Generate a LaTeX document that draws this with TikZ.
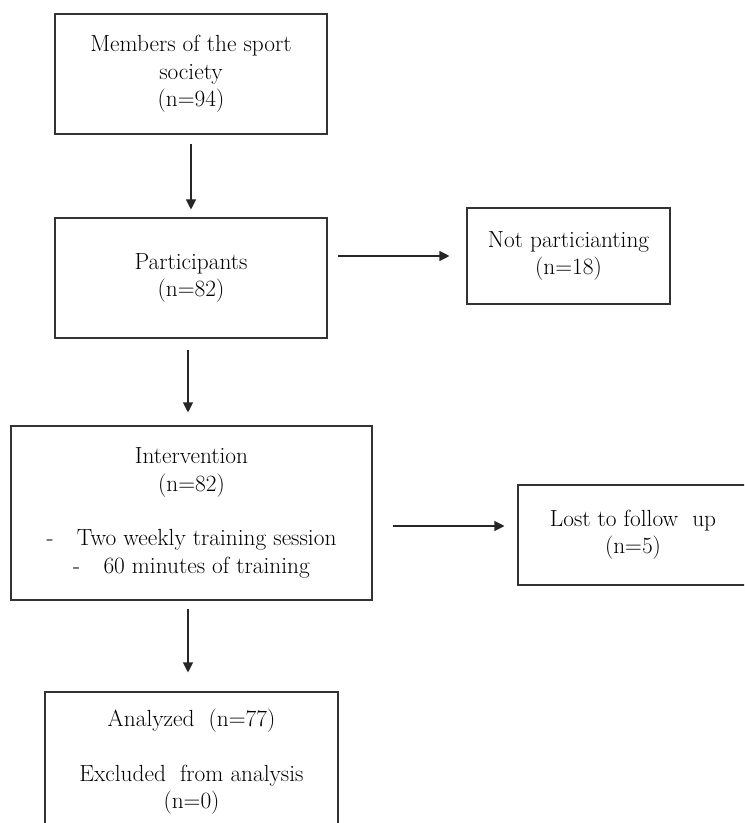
\documentclass[tikz,border=0pt]{standalone}
\usetikzlibrary{arrows.meta,calc}
\begin{document}
\begin{tikzpicture}[x=0.75pt,y=-0.75pt,
  box/.style={draw=black!80,line width=0.8pt,rectangle,inner sep=0pt,align=center,
    font=\fontsize{17.5}{20.5}\selectfont},
  arr/.style={draw=black!85,line width=0.8pt,-{Triangle[length=7.5pt,width=7.5pt]}}]
\useasboundingbox (0,0) rectangle (744,823);
\clip (0,0) rectangle (744,823);
\node[box,minimum width=204pt,minimum height=90pt] (b1) at (191,74)
  {Members of the sport\\society\\(n=94)};
\node[box,minimum width=204pt,minimum height=90pt] (b2) at (191,278)
  {Participants\\(n=82)};
\node[box,minimum width=152.25pt,minimum height=72pt] (b3) at (568.5,256)
  {Not particianting\\(n=18)};
\node[box,minimum width=270.75pt,minimum height=130.5pt] (b4) at (191.5,513)
  {Intervention\\(n=82)\\[20.5pt]-\quad Two weekly training session\\-\quad 60 minutes of training};
\node[box,minimum width=172.5pt,minimum height=75pt] (b5) at (633,535)
  {Lost to follow\ \ up\\(n=5)};
\node[box,minimum width=219.75pt,minimum height=105pt] (b6) at (191.5,762)
  {Analyzed\ \ (n=77)\\[20.5pt]Excluded\ \ from analysis\\(n=0)};
\draw[arr] ($(b1.south)+(0,9)$) -- ($(b2.north)+(0,-8)$);
\draw[arr] ($(b2.east |- b3.west)+(10,0)$) -- ($(b3.west)+(-17,0)$);
\draw[arr] ($(b2.south)+(-3,11)$) -- ($(b4.north)+(-3.5,-13)$);
\draw[arr] ($(b4.east)+(20,13)$) -- ($(b5.west)+(-13,-9)$);
\draw[arr] ($(b4.south)+(-3.5,8)$) -- ($(b6.north)+(-3.5,-19)$);
\end{tikzpicture}
\end{document}
